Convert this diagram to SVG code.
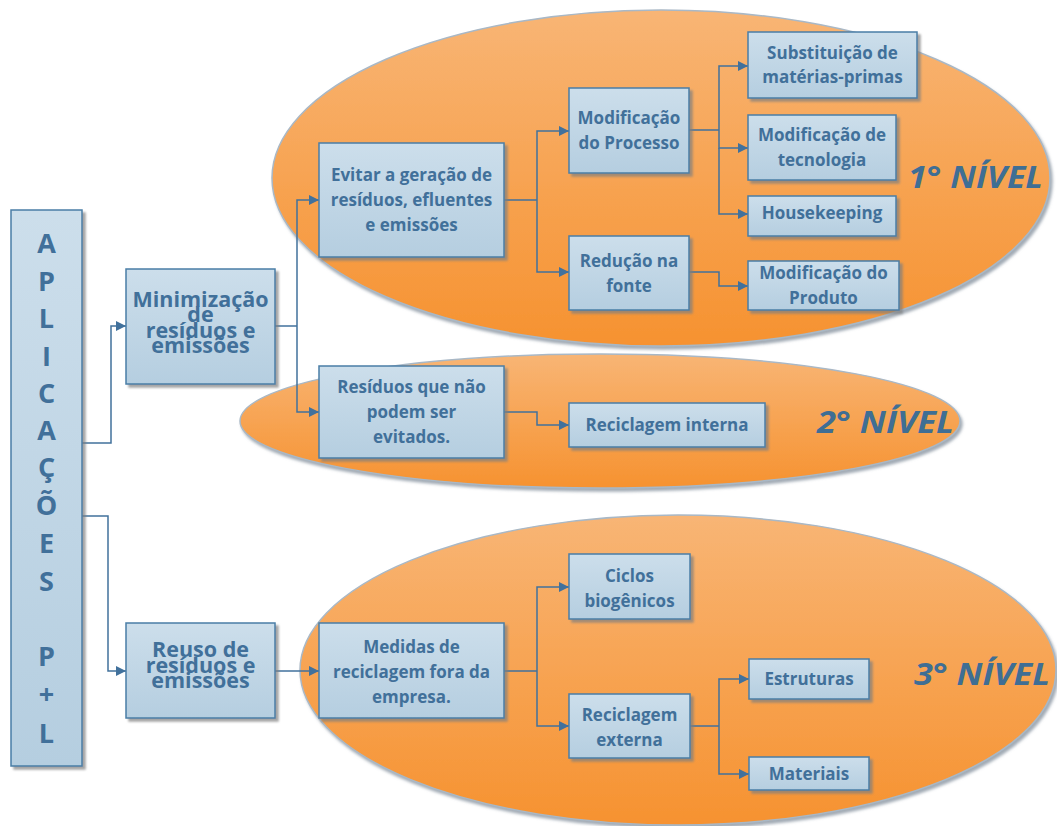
<svg xmlns="http://www.w3.org/2000/svg" width="1057" height="826" viewBox="0 0 1057 826">
<defs>
<linearGradient id="og" x1="0" y1="0" x2="0" y2="1">
<stop offset="0" stop-color="#F8B575"/>
<stop offset="1" stop-color="#F69230"/>
</linearGradient>
<linearGradient id="bg" x1="0" y1="0" x2="0" y2="1">
<stop offset="0" stop-color="#CCDEEB"/>
<stop offset="1" stop-color="#B5CEE0"/>
</linearGradient>
<filter id="sh" x="-10%" y="-10%" width="130%" height="130%">
<feDropShadow dx="3" dy="3" stdDeviation="1" flood-color="#7F7F7F" flood-opacity="0.7"/>
</filter>
<filter id="esh" x="-5%" y="-5%" width="110%" height="115%">
<feDropShadow dx="2" dy="3" stdDeviation="1.5" flood-color="#8A96A3" flood-opacity="0.8"/>
</filter>
<marker id="ar" viewBox="0 0 10 10" refX="10" refY="5" markerWidth="10" markerHeight="10" markerUnits="userSpaceOnUse" orient="auto">
<path d="M0,0 L10,5 L0,10 z" fill="#41719C"/>
</marker>
</defs>
<style>
.ell{fill:url(#og);stroke:#A9B8C6;stroke-width:1.5;filter:url(#esh)}
.box{fill:url(#bg);stroke:#4A7EA6;stroke-width:1.5;filter:url(#sh)}
.t{font-family:"Open Sans","Liberation Sans",sans-serif;font-weight:bold;font-size:17px;fill:#41709A;text-anchor:middle}
.tb{font-family:"Open Sans","Liberation Sans",sans-serif;font-weight:bold;font-size:21.5px;fill:#41709A;text-anchor:middle}
.tv{font-family:"Open Sans","Liberation Sans",sans-serif;font-weight:bold;font-size:27px;fill:#41709A;text-anchor:middle}
.lv{font-family:"Open Sans","Liberation Sans",sans-serif;font-weight:bold;font-style:italic;font-size:30px;fill:#3F6E94}
.c{fill:none;stroke:#41719C;stroke-width:1.5}
.ca{fill:none;stroke:#41719C;stroke-width:1.5;marker-end:url(#ar)}
</style>

<g id="levels">
<ellipse class="ell" cx="661" cy="178" rx="389" ry="168"/>
<ellipse class="ell" cx="600" cy="421" rx="360" ry="67"/>
<ellipse class="ell" cx="678" cy="670" rx="378" ry="155"/>
<text class="lv" x="908" y="188" textLength="135" lengthAdjust="spacingAndGlyphs">1° NÍVEL</text>
<text class="lv" x="817" y="433" textLength="137" lengthAdjust="spacingAndGlyphs">2° NÍVEL</text>
<text class="lv" x="914" y="685" textLength="136" lengthAdjust="spacingAndGlyphs">3° NÍVEL</text>
</g>

<g id="connectors">
<path class="ca" d="M82,443 H111 V326 H126"/>
<path class="ca" d="M82,516 H108 V671 H126"/>
<path class="c" d="M275,326 H297"/>
<path class="ca" d="M297,326 V200 H319"/>
<path class="ca" d="M297,326 V412 H319"/>
<path class="c" d="M504,200 H537"/>
<path class="ca" d="M537,200 V131 H569"/>
<path class="ca" d="M537,200 V272 H569"/>
<path class="c" d="M689,130 H719"/>
<path class="ca" d="M719,130 V66 H748"/>
<path class="ca" d="M719,130 V148 H748"/>
<path class="ca" d="M719,148 V214 H748"/>
<path class="ca" d="M689,272 H719 V286 H748"/>
<path class="ca" d="M504,412 H537 V425 H569"/>
<path class="ca" d="M275,671 H319"/>
<path class="c" d="M504,671 H537"/>
<path class="ca" d="M537,671 V587 H569"/>
<path class="ca" d="M537,671 V726 H569"/>
<path class="c" d="M690,726 H719"/>
<path class="ca" d="M719,726 V679 H749"/>
<path class="ca" d="M719,726 V774 H749"/>
</g>

<g id="aplicacoes">
<rect class="box" x="11" y="210" width="71" height="556"/>
<text class="tv" x="46.5" y="253">A</text>
<text class="tv" x="46.5" y="291">P</text>
<text class="tv" x="46.5" y="328">L</text>
<text class="tv" x="46.5" y="366">I</text>
<text class="tv" x="46.5" y="403">C</text>
<text class="tv" x="46.5" y="440">A</text>
<text class="tv" x="46.5" y="477">Ç</text>
<text class="tv" x="46.5" y="515">Õ</text>
<text class="tv" x="46.5" y="553">E</text>
<text class="tv" x="46.5" y="591">S</text>
<text class="tv" x="46.5" y="666">P</text>
<text class="tv" x="46.5" y="704">+</text>
<text class="tv" x="46.5" y="743">L</text>
</g>

<g id="minimizacao">
<rect class="box" x="126" y="269" width="149" height="115"/>
<text class="tb" x="200.5" y="307">Minimização</text>
<text class="tb" x="200.5" y="322">de</text>
<text class="tb" x="200.5" y="338">resíduos e</text>
<text class="tb" x="200.5" y="353">emissões</text>
</g>

<g id="reuso">
<rect class="box" x="126" y="623" width="149" height="95"/>
<text class="tb" x="200.5" y="657">Reuso de</text>
<text class="tb" x="200.5" y="673">resíduos e</text>
<text class="tb" x="200.5" y="688">emissões</text>
</g>

<g id="evitar">
<rect class="box" x="319" y="143" width="185" height="114"/>
<text class="t" x="411.5" y="181">Evitar a geração de</text>
<text class="t" x="411.5" y="206">resíduos, efluentes</text>
<text class="t" x="411.5" y="231">e emissões</text>
</g>

<g id="mod-processo">
<rect class="box" x="569" y="88" width="120" height="85"/>
<text class="t" x="629" y="124">Modificação</text>
<text class="t" x="629" y="149">do Processo</text>
</g>

<g id="reducao">
<rect class="box" x="569" y="236" width="120" height="74"/>
<text class="t" x="629" y="267">Redução na</text>
<text class="t" x="629" y="292">fonte</text>
</g>

<g id="substituicao">
<rect class="box" x="748" y="32" width="169" height="66"/>
<text class="t" x="832.5" y="59">Substituição de</text>
<text class="t" x="832.5" y="83">matérias-primas</text>
</g>

<g id="mod-tecnologia">
<rect class="box" x="748" y="115" width="148" height="65"/>
<text class="t" x="822" y="141">Modificação de</text>
<text class="t" x="822" y="166">tecnologia</text>
</g>

<g id="housekeeping">
<rect class="box" x="748" y="196" width="148" height="40"/>
<text class="t" x="822" y="219">Housekeeping</text>
</g>

<g id="mod-produto">
<rect class="box" x="748" y="261" width="151" height="49"/>
<text class="t" x="823.5" y="279">Modificação do</text>
<text class="t" x="823.5" y="304">Produto</text>
</g>

<g id="residuos-nao">
<rect class="box" x="319" y="366" width="185" height="92"/>
<text class="t" x="411.5" y="393">Resíduos que não</text>
<text class="t" x="411.5" y="418">podem ser</text>
<text class="t" x="411.5" y="443">evitados.</text>
</g>

<g id="reciclagem-interna">
<rect class="box" x="569" y="403" width="196" height="44"/>
<text class="t" x="667" y="431">Reciclagem interna</text>
</g>

<g id="medidas">
<rect class="box" x="319" y="623" width="185" height="95"/>
<text class="t" x="411.5" y="653">Medidas de</text>
<text class="t" x="411.5" y="678">reciclagem fora da</text>
<text class="t" x="411.5" y="703">empresa.</text>
</g>

<g id="ciclos">
<rect class="box" x="569" y="554" width="121" height="65"/>
<text class="t" x="629.5" y="582">Ciclos</text>
<text class="t" x="629.5" y="607">biogênicos</text>
</g>

<g id="reciclagem-externa">
<rect class="box" x="569" y="694" width="121" height="64"/>
<text class="t" x="629.5" y="721">Reciclagem</text>
<text class="t" x="629.5" y="746">externa</text>
</g>

<g id="estruturas">
<rect class="box" x="749" y="659" width="120" height="40"/>
<text class="t" x="809" y="685">Estruturas</text>
</g>

<g id="materiais">
<rect class="box" x="749" y="757" width="120" height="33"/>
<text class="t" x="809" y="780">Materiais</text>
</g>
</svg>
